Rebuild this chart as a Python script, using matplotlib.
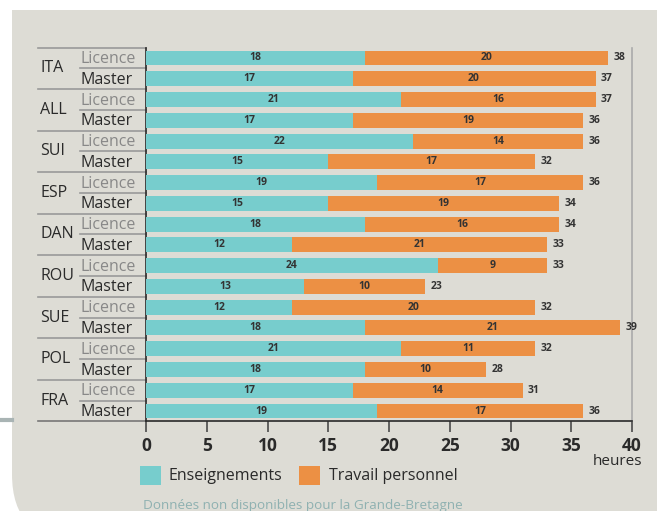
import matplotlib
matplotlib.use("Agg")
import matplotlib.pyplot as plt
from matplotlib.patches import FancyBboxPatch, Rectangle
import matplotlib.transforms as mtransforms

plt.rcParams['font.family'] = ['Open Sans', 'DejaVu Sans']

countries = ["ITA", "ALL", "SUI", "ESP", "DAN", "ROU", "SUE", "POL", "FRA"]
levels = ["Licence", "Master"]
enseignements = [18, 17, 21, 17, 22, 15, 19, 15, 18, 12, 24, 13, 12, 18, 21, 18, 17, 19]
travail = [20, 20, 16, 19, 14, 17, 17, 19, 16, 21, 9, 10, 20, 21, 11, 10, 14, 17]
totals = [38, 37, 37, 36, 36, 32, 36, 34, 34, 33, 33, 23, 32, 39, 32, 28, 31, 36]
xticks = [0, 5, 10, 15, 20, 25, 30, 35, 40]
legend_labels = ["Enseignements", "Travail personnel"]
footnote = "Données non disponibles pour la Grande-Bretagne"
unit = "heures"

TEAL = "#77cdcd"
ORANGE = "#ec9044"
BG = "#dddcd5"
DARK = "#2a2a2a"

W, H = 657, 511
fig = plt.figure(figsize=(W / 100, H / 100), dpi=100)
fig.patch.set_facecolor("white")

def fx(px):
    return px / W

def fy(py):
    return 1 - py / H

# background panel (square top-left, rounded bottom-left)
fig.add_artist(Rectangle((fx(12), fy(300)), fx(700), (300 - 10) / H, transform=fig.transFigure,
                         facecolor=BG, edgecolor="none", zorder=-5))
fig.add_artist(FancyBboxPatch((fx(12), fy(540)), fx(700), (540 - 100) / H,
                              boxstyle="round,pad=0,rounding_size=0.1",
                              transform=fig.transFigure, facecolor=BG, edgecolor="none",
                              mutation_aspect=W / H, zorder=-5))
fig.add_artist(plt.Line2D([0, fx(12)], [fy(420), fy(420)], color="#a9b4b4", lw=3,
                          transform=fig.transFigure, zorder=-4))

ax = fig.add_axes([fx(146), fy(421.4), fx(632 - 146), (421.4 - 47.6) / H])
ax.set_zorder(2)
ax.set_facecolor("none")

n = len(enseignements)
ys = list(range(n))
ax.barh(ys, enseignements, height=0.72, color=TEAL, zorder=3)
ax.barh(ys, travail, left=enseignements, height=0.72, color=ORANGE, zorder=3)

for i in range(n):
    e, t, tot = enseignements[i], travail[i], totals[i]
    ax.text(e / 2, i, str(e), ha="center", va="center", fontsize=7.5, fontweight="bold",
            color="#333333", zorder=4)
    ax.text(e + t / 2, i, str(t), ha="center", va="center", fontsize=7.5, fontweight="bold",
            color="#333333", zorder=4)
    ax.text(tot + 0.45, i, str(tot), ha="left", va="center", fontsize=7.5, fontweight="bold",
            color="#333333", zorder=4)

ax.set_xlim(0, 40)
ax.set_ylim(n - 0.5, -0.5)
ax.set_yticks([])
ax.set_xticks(xticks)
ax.set_xticklabels([str(v) for v in xticks], fontsize=12.5, fontweight="bold", color=DARK)
ax.tick_params(axis="x", direction="out", length=8, width=1.3, color="#555555", pad=3)

ax.spines["top"].set_visible(False)
ax.spines["right"].set_color("#aaaaaa")
ax.spines["right"].set_linewidth(1.2)
ax.spines["left"].set_color(DARK)
ax.spines["left"].set_linewidth(1.2)
ax.spines["bottom"].set_color(DARK)
ax.spines["bottom"].set_linewidth(1.2)

trans = mtransforms.blended_transform_factory(ax.transAxes, ax.transData)
x_country = (38 - 146) / 486
x_level = (80 - 146) / 486
# separators
ax.plot([x_country, 0], [-0.5, -0.5], transform=trans, color="#999999", lw=1.2, clip_on=False)
for g in range(len(countries)):
    ax.plot([x_level, 0], [2 * g + 0.5, 2 * g + 0.5], transform=trans, color="#999999",
            lw=1.2, clip_on=False)
    if g < len(countries) - 1:
        ax.plot([x_country, 0], [2 * g + 1.5, 2 * g + 1.5], transform=trans, color="#999999",
                lw=1.2, clip_on=False)
ax.plot([x_country, 0], [n - 0.5, n - 0.5], transform=trans, color="#777777", lw=1.2,
        clip_on=False)

for g, c in enumerate(countries):
    ax.text((40 - 146) / 486, 2 * g + 0.5, c, transform=trans, ha="left", va="center",
            fontsize=11.5, color=DARK)
    for k, lv in enumerate(levels):
        ax.text(x_level, 2 * g + k + 0.05, lv, transform=trans, ha="left", va="center",
                fontsize=11.5, color="#888888" if k == 0 else DARK)

fig.text(fx(618), fy(461), unit, ha="center", va="center", fontsize=11, color=DARK)

# legend
fig.add_artist(Rectangle((fx(140), fy(485)), fx(21), 19 / H, transform=fig.transFigure,
                         facecolor=TEAL, edgecolor="none"))
fig.text(fx(169), fy(476), legend_labels[0], ha="left", va="center", fontsize=11.5, color=DARK)
fig.add_artist(Rectangle((fx(299), fy(485)), fx(21), 19 / H, transform=fig.transFigure,
                         facecolor=ORANGE, edgecolor="none"))
fig.text(fx(329), fy(476), legend_labels[1], ha="left", va="center", fontsize=11.5, color=DARK)

fig.text(fx(143), fy(506), footnote, ha="left", va="center", fontsize=9.7, color="#8fb1b1")

fig.savefig("out.png", dpi=100, facecolor="white")
